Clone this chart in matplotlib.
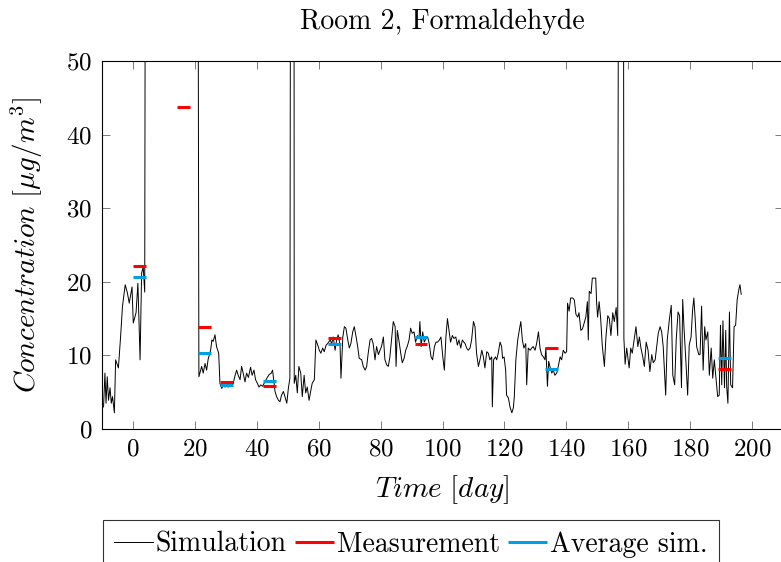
#==== Room 2 formaldehyde: simulation vs measurement ====#
import matplotlib
matplotlib.use('Agg')
import matplotlib.pyplot as plt
import numpy as np

#------------ some plot configurations -------------
plt.rcParams['font.family'] = 'serif'
plt.rcParams['font.serif'] = ['cmr10', 'DejaVu Serif']
plt.rcParams['mathtext.fontset'] = 'cm'
plt.rcParams['axes.formatter.use_mathtext'] = True
plt.rcParams['font.size'] = 18

#------------ simulated concentration (day, ug/m3), 100 = off chart -------------
sim_day = [-9.5, -9.05, -8.7, -8.3, -7.9, -7.4, -7.0, -6.6, -6.0, -5.6, -4.7, -4.0, -3.4, -2.5, -1.8,
           -1.2, -0.3, 0.1, 1.0, 1.6, 2.3, 2.8, 3.3, 3.8, 4.1, 20.9, 21.3, 22.2, 22.7, 23.3, 23.8,
           24.3, 25.1, 25.5, 25.9, 26.5, 27.0, 27.7, 28.1, 28.7, 29.2, 29.7, 30.3, 30.8, 31.3, 31.9,
           32.4, 33.0, 33.5, 34.0, 34.6, 35.1, 35.6, 36.2, 36.7, 37.3, 38.0, 38.5, 39.1, 39.6, 40.2,
           40.7, 41.3, 41.9, 42.6, 43.4, 44.0, 44.7, 45.1, 45.6, 45.9, 46.4, 47.0, 47.5,
           48.0, 48.6, 49.1, 49.7, 50.2, 50.7, 51.0, 52.0, 52.1, 52.6, 53.1, 53.6, 54.2, 54.7, 55.3,
           55.8, 56.3, 56.9, 57.4, 57.9, 58.6, 59.1, 59.7, 60.2, 60.7, 61.3, 61.8, 62.4, 62.9, 63.7,
           64.2, 64.7, 65.3, 65.8, 66.3, 66.9, 67.2, 67.8, 68.3, 68.8, 69.4, 69.9, 70.4, 71.0, 71.5,
           72.1, 72.6, 73.1, 73.9, 74.4, 75.0, 75.5, 76.0, 76.6, 77.1, 77.6, 78.2,
           78.7, 79.3, 79.8, 80.3, 80.9, 81.4, 82.0, 82.5, 83.0, 83.6, 84.1, 84.7, 85.0, 85.4, 85.9,
           86.5, 87.0, 87.6, 88.1, 88.6, 89.2, 89.7, 90.2, 90.8, 91.3, 91.9, 92.4, 92.7, 93.1, 93.6,
           94.1, 94.7, 95.2, 95.7, 96.3, 96.8, 97.4, 97.9, 98.4, 99.0, 99.5, 100.1, 100.6, 101.1,
           101.6, 102.1, 102.6, 103.2, 103.7, 104.3, 104.8, 105.3, 105.9, 106.4, 106.9,
           107.3, 107.8, 108.3, 108.9, 109.4, 110.0, 110.5, 111.0, 111.6, 112.1, 112.7, 113.2, 113.7,
           114.3, 114.8, 115.3, 115.9, 116.1, 116.5, 117.1, 117.5, 118.0, 118.6, 119.1, 119.4, 119.9,
           120.4, 120.7, 121.3, 121.8, 122.4, 122.9, 123.2, 123.7, 124.3, 124.8, 125.3, 125.8, 126.3,
           126.9, 127.2, 127.7, 128.3, 128.8, 129.3, 129.9, 130.4, 131.0, 131.5, 132.0, 132.6, 133.1,
           133.4, 133.9, 134.3, 134.7, 135.3, 135.8, 136.3,
           136.9, 137.4, 138.0, 138.5, 139.0, 139.6, 140.1, 140.4, 140.9, 141.4, 142.1, 142.6, 143.1,
           143.7, 144.1, 144.7, 145.2, 145.7, 146.3, 146.8, 147.1, 147.4, 148.0, 148.4, 149.0, 149.5,
           149.8, 150.1, 150.6, 151.1, 151.6, 152.3, 152.8, 153.4, 153.9, 154.4, 155.0, 155.5, 156.1,
           156.6, 157.0, 158.4, 158.6, 159.0, 159.5, 160.3, 160.8, 161.3, 161.9, 162.5, 163.1, 163.6,
           164.1, 164.7, 165.2,
           165.8, 166.4, 167.0, 167.6, 168.1, 168.7, 169.2, 169.7, 170.3, 170.8, 171.3, 172.1, 172.6,
           173.3, 173.9, 174.4, 175.0, 175.5, 176.1, 176.6, 177.2, 177.6, 178.0, 178.6, 179.2, 179.7,
           180.3, 180.8, 181.2, 181.6, 182.1, 182.8, 183.2, 183.7, 184.2, 184.7, 185.1, 185.7, 186.2,
           186.8, 187.3, 187.8, 188.4, 188.9, 189.4, 189.8, 190.2, 190.6, 191.1, 191.5, 191.8, 192.2,
           192.7, 193.1, 193.7, 194.2, 194.7, 195.2, 195.8, 196.1, 196.5]
sim_conc = [3.0, 7.6, 3.5, 7.1, 3.9, 5.6, 3.5, 4.4, 2.2, 9.4, 8.3, 12.5, 16.6, 19.6, 18.5,
            17.1, 19.3, 14.4, 15.8, 19.8, 9.4, 21.2, 22.0, 18.6, 100, 100, 7.1, 8.5, 7.6, 8.9, 8.0,
            9.5, 10.7, 12.1, 11.9, 12.8, 11.2, 10.3, 6.2, 5.5, 6.0, 5.7, 5.8, 5.7, 6.0, 5.8,
            6.2, 7.3, 8.0, 7.3, 6.7, 8.5, 7.6, 6.4, 7.6, 7.0, 8.4, 7.3, 8.0, 6.7, 6.2,
            5.7, 6.0, 5.8, 6.4, 7.0, 7.4, 7.6, 8.0, 6.2, 5.1, 4.4, 3.9, 3.7,
            4.6, 5.1, 4.4, 3.5, 5.5, 6.9, 100, 100, 6.2, 7.3, 4.9, 8.5, 7.6, 4.4, 7.3,
            4.9, 5.7, 3.9, 5.1, 6.2, 6.7, 12.1, 11.4, 10.7, 10.3, 11.0, 10.5, 11.4, 11.6, 12.1,
            11.6, 12.5, 10.7, 12.1, 12.8, 11.4, 6.9, 12.5, 13.9, 13.7, 12.1, 11.0, 11.6, 13.2, 13.9,
            12.5, 11.2, 9.6, 9.4, 8.5, 8.0, 8.5, 10.3, 12.1, 12.3, 11.6, 9.4,
            11.2, 10.1, 10.7, 11.2, 12.5, 9.4, 8.7, 8.5, 9.8, 12.5, 14.6, 13.9, 8.5, 13.4, 12.1,
            10.3, 9.0, 9.6, 10.7, 11.2, 12.1, 13.7, 13.0, 13.2, 11.8, 12.7, 12.3, 14.6, 11.2, 13.2,
            11.8, 12.3, 12.5, 11.6, 9.8, 9.4, 11.2, 11.8, 11.8, 12.1, 12.5, 9.8, 8.0, 12.5,
            15.0, 13.4, 11.8, 12.7, 12.3, 12.5, 11.4, 12.1, 11.0, 12.1, 11.8,
            11.6, 11.0, 10.7, 11.0, 12.1, 14.6, 13.9, 10.3, 8.5, 9.4, 10.7, 9.8, 8.3,
            10.5, 10.3, 9.4, 9.8, 3.0, 9.4, 9.8, 9.4, 10.3, 11.8, 11.2, 9.6, 9.8,
            8.0, 4.6, 4.2, 3.0, 2.2, 2.9, 4.4, 9.4, 12.1, 13.4, 14.6, 12.1, 11.0,
            11.6, 6.0, 11.0, 10.7, 11.0, 11.2, 10.7, 11.6, 13.2, 11.0, 10.1, 9.8, 9.4,
            11.0, 5.8, 9.2, 8.5, 7.6, 8.0, 7.3,
            7.6, 8.5, 9.8, 9.4, 10.7, 10.3, 10.5, 17.1, 16.0, 17.8, 17.8, 17.5, 15.6,
            15.2, 15.8, 13.4, 13.6, 14.3, 15.2, 17.3, 12.1, 18.7, 18.4, 20.5, 20.5, 20.5,
            17.1, 15.2, 17.3, 15.0, 11.4, 8.5, 12.5, 15.4, 15.0, 12.7, 15.8, 14.6, 16.5,
            12.7, 100, 100, 12.3, 8.8, 11.0, 8.3, 11.0, 10.3, 12.1, 13.9, 11.2, 12.5,
            11.0, 9.8, 8.5,
            11.8, 10.7, 7.8, 10.1, 9.0, 9.4, 11.2, 13.0, 13.9, 13.2, 11.2, 4.6, 12.1,
            14.9, 16.8, 7.3, 6.0, 12.1, 15.9, 15.4, 5.6, 17.6, 13.9, 9.4, 4.6, 11.4,
            12.5, 16.2, 17.8, 15.2, 11.2, 10.1, 10.1, 16.7, 8.0, 13.9, 12.1, 13.2, 7.3,
            11.0, 6.9, 9.4, 6.6, 4.4, 4.6, 14.1, 6.0, 14.7, 5.6, 13.4, 5.8, 3.5,
            15.9, 6.0, 5.6, 13.9, 14.1, 17.6, 19.1, 19.6, 18.3]

#------------ measured values (start day, end day, ug/m3) -------------
meas_start = [0.1, 14.1, 21.0, 28.1, 42.0, 63.1, 91.1, 133.1, 189.1]
meas_end = [4.1, 18.3, 25.2, 32.3, 46.2, 67.1, 95.1, 137.2, 193.2]
meas_val = [22.2, 43.7, 13.9, 6.4, 5.8, 12.4, 11.6, 11.0, 8.2]

#------------ averaged simulation over the measurement periods -------------
avg_start = [0.1, 21.0, 28.1, 42.0, 63.1, 91.1, 133.1, 189.1]
avg_end = [4.1, 25.2, 32.3, 46.2, 67.1, 95.1, 137.2, 193.2]
avg_val = [20.6, 10.3, 6.0, 6.5, 11.6, 12.5, 8.1, 9.7]

#------------ plot -------------
fig = plt.figure(figsize=(7.81, 5.62), dpi=100)
ax = fig.add_axes([102/781, 1-429/562, 681/781, 368/562])

ax.plot(sim_day, sim_conc, color='black', linewidth=0.7, label='Simulation')
ax.hlines(meas_val, meas_start, meas_end, color='#ff0000', linewidth=2.2, label='Measurement')
ax.hlines(avg_val, avg_start, avg_end, color='#009fe3', linewidth=2.2, label='Average sim.')

ax.set_xlim(-10, 210)
ax.set_ylim(0, 50)
ax.set_xticks(np.arange(0, 201, 20))
ax.set_yticks(np.arange(0, 51, 10))
ax.tick_params(direction='in', length=6, width=0.6, color='#666666', top=True, right=True, pad=7)
for s in ax.spines.values():
    s.set_linewidth(0.8)

ax.set_title('Room 2, Formaldehyde', fontsize=20, pad=23)
ax.set_xlabel(r'$Time\ [day]$', fontsize=21, labelpad=9)
ax.set_ylabel(r'$Concentration\ [\mu g/m^3]$', fontsize=21, labelpad=15)

leg = ax.legend(loc='upper left', bbox_to_anchor=(1/681, -91/368), ncol=3, frameon=True,
                fancybox=False, edgecolor='black', fontsize=20, handlelength=1.4,
                handletextpad=0.1, columnspacing=0.3, borderpad=0.4, borderaxespad=0)
leg.get_frame().set_linewidth(0.8)

fig.savefig('out.png', dpi=100)
